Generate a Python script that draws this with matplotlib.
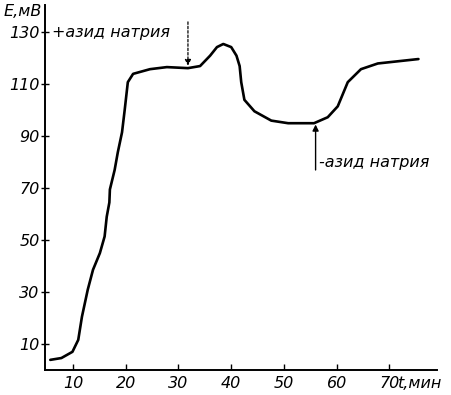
import matplotlib
matplotlib.use("Agg")
import matplotlib.pyplot as plt

# time, min
t = [5.7, 7.8, 9.9, 11.0, 11.7, 12.8, 13.8, 15.1, 16.0, 16.4, 16.9, 17.0,
     17.9, 18.5, 19.3, 19.8, 20.4, 21.4, 24.6, 27.8, 31.8, 34.1, 36.0, 37.3,
     38.5, 40.0, 41.0, 41.6, 41.9, 42.5, 44.4, 47.6, 50.8, 55.7, 58.3, 60.2,
     62.1, 64.6, 67.8, 75.5]
# potential, mV
E = [3.9, 4.6, 7.0, 11.6, 20.5, 30.9, 38.6, 45.0, 51.4, 59.0, 64.5, 69.5,
     77.0, 83.8, 91.5, 100.0, 110.8, 114.0, 115.8, 116.6, 116.2, 117.0, 121.0, 124.3,
     125.5, 124.3, 121.0, 117.0, 110.8, 104.0, 99.6, 96.0, 95.0, 95.0, 97.3, 101.5,
     110.8, 115.8, 118.0, 119.7]

xticks = [10, 20, 30, 40, 50, 60, 70]
yticks = [10, 30, 50, 70, 90, 110, 130]

add_t, add_E = 31.8, 116.6
rem_t, rem_E = 56.0, 95.0

plt.rcParams["font.family"] = ["DejaVu Sans"]
fs = 11.5
fig = plt.figure(figsize=(4.52, 3.95), dpi=100)
ax = fig.add_axes([0.0996, 0.0633, 0.867, 0.924])
ax.plot(t, E, color="black", lw=1.9, solid_capstyle="round", solid_joinstyle="round")
ax.set_xlim(4.7, 79)
ax.set_ylim(0, 140.5)
ax.spines["top"].set_visible(False)
ax.spines["right"].set_visible(False)
ax.spines["left"].set_linewidth(1.4)
ax.spines["bottom"].set_linewidth(1.4)
ax.set_xticks(xticks)
ax.set_yticks(yticks)
ax.set_xticklabels([str(v) for v in xticks], fontsize=fs, style="italic")
ax.set_yticklabels([str(v) for v in yticks], fontsize=fs, style="italic")
ax.tick_params(axis="x", direction="in", length=4, width=1, pad=4)
ax.tick_params(axis="y", direction="inout", length=6, width=1, pad=1)

# annotations
ax.annotate("", xy=(add_t, add_E + 0.5), xytext=(add_t, 134),
            arrowprops=dict(arrowstyle="-|>", color="black", lw=0.9, ls=(0, (2, 1.5)),
                            mutation_scale=9, shrinkA=0, shrinkB=0))
ax.text(6.0, 130, "+азид натрия", fontsize=fs, style="italic", va="center", ha="left")
ax.annotate("", xy=(rem_t, rem_E - 0.5), xytext=(rem_t, 77),
            arrowprops=dict(arrowstyle="-|>", color="black", lw=1.0,
                            mutation_scale=9, shrinkA=0, shrinkB=0))
ax.text(56.7, 80, "-азид натрия", fontsize=fs, style="italic", va="center", ha="left")

fig.text(4 / 452, 1 - 12 / 395, "E,мВ", fontsize=fs, style="italic", va="center", ha="left")
fig.text(398 / 452, 1 - 384 / 395, "t,мин", fontsize=fs, style="italic", va="center", ha="left")

fig.savefig("out.png", dpi=100)
